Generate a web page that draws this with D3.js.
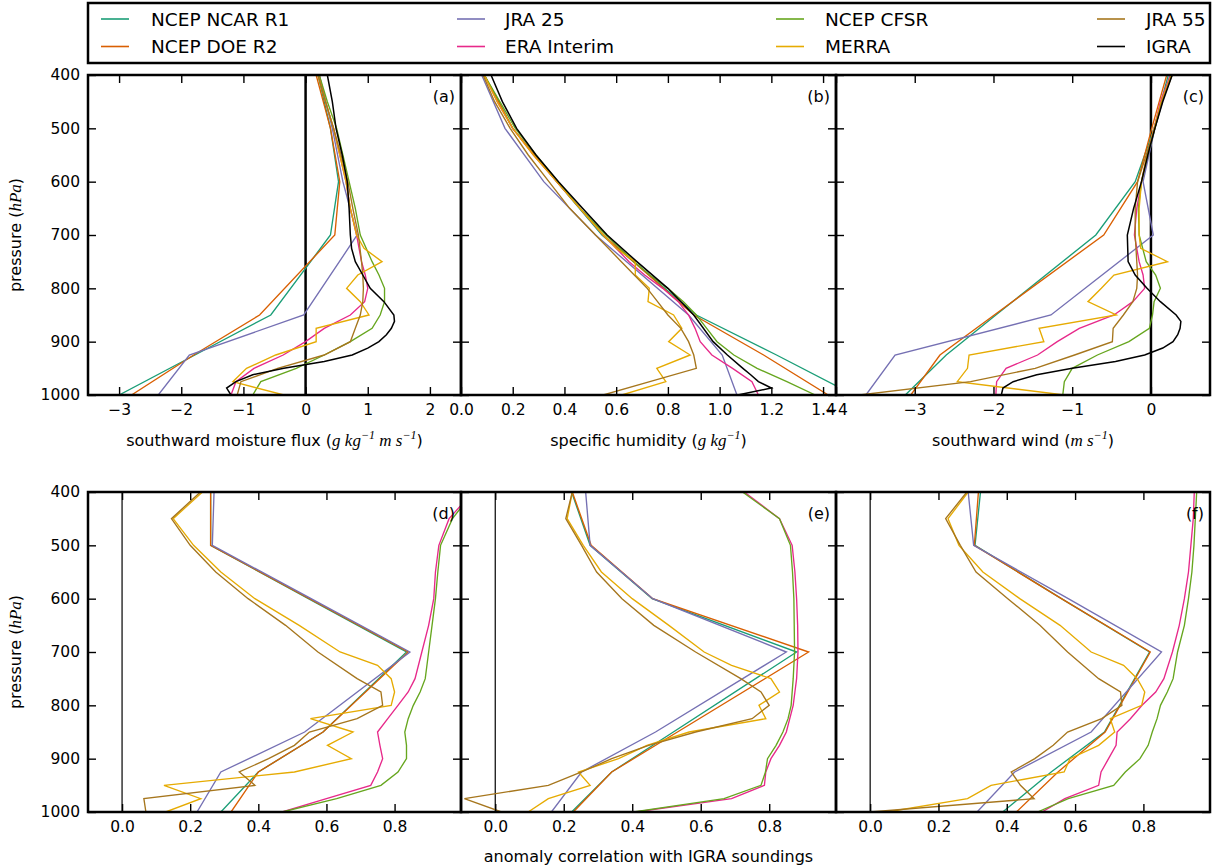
<!DOCTYPE html>
<html><head><meta charset="utf-8">
<script src="https://cdn.jsdelivr.net/npm/d3@7"></script>
<style>
body{margin:0;background:#fff;}
svg{display:block;font-family:"DejaVu Sans",sans-serif;}
</style></head><body>
<svg id="chart" width="1215" height="866"></svg>
<script>
// ---------- names, colours ----------
const seriesNames = ["NCEP NCAR R1","NCEP DOE R2","JRA 25","ERA Interim","NCEP CFSR","MERRA","JRA 55","IGRA"];
const seriesColors = ["#1b9e77","#d95f02","#7570b3","#e7298a","#66a61e","#e6ab02","#a6761d","#000000"];

// ---------- pressure levels (hPa) ----------
const pStd   = [400,500,600,700,850,925,1000];
const pFine  = [400,450,500,550,600,650,700,750,775,800,825,850,875,900,925,950,975,1000];
const pMerra = [400,450,500,550,600,650,700,725,750,775,800,825,850,875,900,925,950,975,1000];
const pIgraA = [400,450,500,550,600,650,700,725,750,775,800,825,850,862,875,887,900,912,925,937,950,962,975,987,1000];
const pIgraB = [400,450,500,550,600,650,700,750,800,850,900,925,950,962,975,987,1000];
const pIgraC = [400,450,500,550,600,650,700,750,775,800,825,850,862,875,887,900,912,925,937,950,962,975,987,1000];

// ---------- tick labels ----------
const pressureTicks = [400,500,600,700,800,900,1000];
const ticksA = [-3,-2,-1,0,1,2];
const ticksB = [0,0.2,0.4,0.6,0.8,1.0,1.2,1.4];
const ticksC = [-4,-3,-2,-1,0];
const ticksCorr = [0,0.2,0.4,0.6,0.8];

// ---------- (a) southward moisture flux ----------
const aR1    = [0.20,0.40,0.53,0.40,-0.56,-1.78,-3.0];
const aR2    = [0.17,0.40,0.55,0.47,-0.74,-1.80,-2.8];
const aJRA25 = [0.22,0.43,0.60,0.83,-0.03,-1.87,-2.37];
const aERA   = [0.22,0.32,0.45,0.55,0.65,0.72,0.82,0.90,0.96,1.00,0.95,0.72,0.30,0.00,-0.36,-0.83,-1.12,-1.20];
const aCFSR  = [0.22,0.35,0.50,0.60,0.70,0.80,0.88,1.07,1.18,1.27,1.27,1.20,1.07,0.72,0.30,-0.15,-0.72,-0.85];
const aMERRA = [0.20,0.32,0.45,0.55,0.65,0.72,0.82,0.94,1.23,0.84,0.66,0.88,1.02,0.17,0.17,-0.48,-0.95,-1.17,-0.35];
const aJRA55 = [0.20,0.32,0.45,0.57,0.68,0.76,0.85,0.90,0.92,0.93,0.92,0.88,0.80,0.72,0.30,-0.45,-1.04,-1.10];
const aIGRA  = [0.35,0.43,0.49,0.59,0.67,0.70,0.72,0.74,0.80,0.92,1.04,1.26,1.42,1.43,1.38,1.30,1.18,1.00,0.75,0.30,-0.35,-0.85,-1.12,-1.27,-1.20];

// ---------- (b) specific humidity ----------
const bR1    = [0.09,0.20,0.37,0.545,0.91,1.22,1.52];
const bR2    = [0.09,0.20,0.37,0.55,0.90,1.17,1.42];
const bJRA25 = [0.08,0.17,0.32,0.52,0.88,1.01,1.067];
const bERA   = [0.09,0.14,0.20,0.28,0.37,0.46,0.55,0.65,0.71,0.78,0.84,0.88,0.905,0.925,0.97,1.05,1.125,1.15];
const bCFSR  = [0.09,0.15,0.21,0.29,0.375,0.46,0.56,0.67,0.73,0.80,0.86,0.91,0.95,0.99,1.055,1.145,1.26,1.37];
const bMERRA = [0.09,0.14,0.20,0.28,0.37,0.46,0.55,0.60,0.674,0.674,0.728,0.723,0.822,0.854,0.803,0.886,0.757,0.792,0.622];
const bJRA55 = [0.085,0.13,0.19,0.26,0.34,0.42,0.52,0.62,0.67,0.72,0.76,0.80,0.85,0.88,0.90,0.91,0.73,0.55];
const bIGRA  = [0.116,0.16,0.215,0.29,0.377,0.47,0.565,0.68,0.80,0.90,0.975,1.03,1.09,1.12,1.15,1.20,1.07];

// ---------- (c) southward wind ----------
const cR1    = [0.22,0.04,-0.20,-0.70,-1.97,-2.60,-3.12];
const cR2    = [0.20,0.01,-0.17,-0.60,-1.99,-2.68,-3.05];
const cJRA25 = [0.24,0.05,-0.10,0.03,-1.27,-3.25,-3.62];
const cERA   = [0.25,0.12,0.04,-0.05,-0.12,-0.18,-0.21,-0.15,-0.10,-0.08,-0.23,-0.47,-0.91,-1.19,-1.44,-1.84,-1.96,-1.97];
const cCFSR  = [0.26,0.14,0.05,-0.04,-0.12,-0.16,-0.15,-0.06,0.06,0.12,0.04,0.02,-0.02,-0.28,-0.68,-1.00,-1.10,-1.12];
const cMERRA = [0.26,0.13,0.04,-0.05,-0.12,-0.15,-0.15,-0.13,0.21,-0.47,-0.63,-0.80,-0.44,-1.42,-1.36,-2.31,-2.33,-2.46,-1.10];
const cJRA55 = [0.27,0.14,0.05,-0.06,-0.17,-0.20,-0.20,-0.18,-0.17,-0.18,-0.23,-0.35,-0.48,-0.49,-0.97,-1.47,-2.29,-3.70];
const cIGRA  = [0.27,0.15,0.05,-0.04,-0.12,-0.22,-0.30,-0.29,-0.20,-0.05,0.12,0.32,0.38,0.37,0.34,0.28,0.15,-0.08,-0.45,-1.00,-1.45,-1.75,-1.88,-1.90];

// ---------- (d) correlation: moisture flux ----------
const dR1    = [0.26,0.26,0.547,0.835,0.59,0.40,0.29];
const dR2    = [0.26,0.26,0.55,0.84,0.59,0.40,0.32];
const dJRA25 = [0.27,0.265,0.555,0.845,0.536,0.29,0.22];
const dERA   = [1.03,0.96,0.93,0.92,0.915,0.90,0.88,0.86,0.84,0.81,0.78,0.75,0.757,0.765,0.75,0.73,0.60,0.47];
const dCFSR  = [1.03,0.97,0.935,0.927,0.92,0.91,0.90,0.89,0.875,0.855,0.84,0.83,0.835,0.835,0.81,0.76,0.63,0.47];
const dMERRA = [0.236,0.15,0.21,0.29,0.39,0.52,0.64,0.75,0.79,0.80,0.79,0.553,0.678,0.603,0.673,0.506,0.123,0.231,0.128];
const dJRA55 = [0.23,0.145,0.20,0.275,0.37,0.48,0.575,0.69,0.76,0.765,0.69,0.55,0.506,0.43,0.344,0.39,0.064,0.07];

// ---------- (e) correlation: specific humidity ----------
const eR1    = [0.223,0.277,0.458,0.88,0.52,0.34,0.223];
const eR2    = [0.225,0.28,0.46,0.915,0.532,0.34,0.228];
const eJRA25 = [0.264,0.277,0.46,0.85,0.468,0.252,0.164];
const eERA   = [0.727,0.83,0.867,0.875,0.88,0.883,0.884,0.88,0.875,0.87,0.86,0.85,0.83,0.805,0.79,0.786,0.69,0.41];
const eCFSR  = [0.722,0.83,0.862,0.868,0.872,0.873,0.874,0.87,0.867,0.864,0.855,0.84,0.82,0.795,0.789,0.776,0.668,0.404];
const eMERRA = [0.225,0.21,0.257,0.31,0.40,0.507,0.61,0.69,0.805,0.83,0.77,0.79,0.566,0.443,0.36,0.243,0.277,0.155,0.096];
const eJRA55 = [0.225,0.206,0.252,0.296,0.37,0.463,0.585,0.717,0.776,0.80,0.75,0.585,0.448,0.34,0.252,0.155,-0.09,0.018];

// ---------- (f) correlation: southward wind ----------
const fR1    = [0.323,0.307,0.56,0.818,0.686,0.53,0.388];
const fR2    = [0.317,0.305,0.56,0.82,0.688,0.55,0.428];
const fJRA25 = [0.287,0.303,0.58,0.853,0.647,0.423,0.313];
const fERA   = [0.949,0.946,0.939,0.932,0.92,0.905,0.885,0.86,0.836,0.796,0.762,0.723,0.72,0.698,0.676,0.669,0.57,0.503];
const fCFSR  = [0.956,0.952,0.948,0.942,0.932,0.92,0.90,0.887,0.87,0.85,0.84,0.826,0.814,0.79,0.747,0.713,0.58,0.49];
const fMERRA = [0.287,0.228,0.26,0.33,0.438,0.556,0.647,0.742,0.782,0.804,0.795,0.703,0.716,0.669,0.585,0.568,0.354,0.285,0.05];
const fJRA55 = [0.283,0.221,0.264,0.31,0.403,0.497,0.578,0.669,0.733,0.737,0.678,0.578,0.536,0.482,0.413,0.44,0.48,0.0];

// ---------- build panels ----------
const seriesLevels = [pStd,pStd,pStd,pFine,pFine,pMerra,pFine];
function mk(vals, igra){
  const out = vals.map((v,i)=>({name:seriesNames[i], color:seriesColors[i], pts:seriesLevels[i].map((p,j)=>[p,v[j]])}));
  if (igra) out.push({name:"IGRA", color:"#000", pts:igra[0].map((p,j)=>[p,igra[1][j]])});
  return out;
}
const colX = [[88,461],[461,836],[836,1210]];
const rowY = [[75,395],[492,812]];
const fmtInt = d3.format("d"), fmt1 = d3.format(".1f");
const panels = [
  {lab:"(a)", c:0, r:0, dom:[-3.5,2.5], ticks:ticksA, fmt:fmtInt, zero:2.5, series:mk([aR1,aR2,aJRA25,aERA,aCFSR,aMERRA,aJRA55],[pIgraA,aIGRA])},
  {lab:"(b)", c:1, r:0, dom:[0,1.45], ticks:ticksB, fmt:fmt1, zero:0, series:mk([bR1,bR2,bJRA25,bERA,bCFSR,bMERRA,bJRA55],[pIgraB,bIGRA])},
  {lab:"(c)", c:2, r:0, dom:[-4,0.75], ticks:ticksC, fmt:fmtInt, zero:2.5, series:mk([cR1,cR2,cJRA25,cERA,cCFSR,cMERRA,cJRA55],[pIgraC,cIGRA])},
  {lab:"(d)", c:0, r:1, dom:[-0.1,0.995], ticks:ticksCorr, fmt:fmt1, zero:1.2, series:mk([dR1,dR2,dJRA25,dERA,dCFSR,dMERRA,dJRA55])},
  {lab:"(e)", c:1, r:1, dom:[-0.1,0.995], ticks:ticksCorr, fmt:fmt1, zero:1.2, series:mk([eR1,eR2,eJRA25,eERA,eCFSR,eMERRA,eJRA55])},
  {lab:"(f)", c:2, r:1, dom:[-0.1,0.995], ticks:ticksCorr, fmt:fmt1, zero:1.2, series:mk([fR1,fR2,fJRA25,fERA,fCFSR,fMERRA,fJRA55])}
];

const svg = d3.select("#chart");
const defs = svg.append("defs");

function styleAxis(g, labels){
  g.select(".domain").remove();
  g.selectAll(".tick line").attr("stroke","#000").attr("stroke-width",1.4);
  g.selectAll(".tick text").attr("fill","#000").style("font-size","15.5px").style("font-family","DejaVu Sans");
  if(!labels) g.selectAll(".tick text").remove();
}

panels.forEach((P,i)=>{
  const [x0,x1] = colX[P.c], [y0,y1] = rowY[P.r];
  const x = d3.scaleLinear().domain(P.dom).range([x0,x1]);
  const y = d3.scaleLinear().domain([400,1000]).range([y0,y1]);
  const g = svg.append("g");
  defs.append("clipPath").attr("id","clip"+i).append("rect")
    .attr("x",x0).attr("y",y0).attr("width",x1-x0).attr("height",y1-y0);
  if (P.zero>0) g.append("line").attr("x1",x(0)).attr("x2",x(0)).attr("y1",y0).attr("y2",y1)
    .attr("stroke","#000").attr("stroke-width",P.zero);
  const line = d3.line().x(d=>x(d[1])).y(d=>y(d[0]));
  const lg = g.append("g").attr("clip-path",`url(#clip${i})`);
  P.series.forEach(s=>{
    lg.append("path").attr("d",line(s.pts)).attr("fill","none").attr("stroke",s.color)
      .attr("stroke-width", s.name==="IGRA"?1.5:1.35).attr("stroke-linejoin","miter");
  });
  const gb = g.append("g").attr("transform",`translate(0,${y1})`)
    .call(d3.axisBottom(x).tickValues(P.ticks).tickSize(-8).tickPadding(9).tickFormat(P.fmt));
  styleAxis(gb,true);
  const gt = g.append("g").attr("transform",`translate(0,${y0})`)
    .call(d3.axisTop(x).tickValues(P.ticks).tickSize(-8));
  styleAxis(gt,false);
  const gl = g.append("g").attr("transform",`translate(${x0},0)`)
    .call(d3.axisLeft(y).tickValues(pressureTicks).tickSize(-8).tickPadding(8).tickFormat(fmtInt));
  styleAxis(gl, P.c===0);
  const gr = g.append("g").attr("transform",`translate(${x1},0)`)
    .call(d3.axisRight(y).tickValues(pressureTicks).tickSize(-8));
  styleAxis(gr,false);
  g.append("rect").attr("x",x0).attr("y",y0).attr("width",x1-x0).attr("height",y1-y0)
    .attr("fill","none").attr("stroke","#000").attr("stroke-width",2.5);
  g.append("text").attr("x",x1-6).attr("y",y0+27).attr("text-anchor","end")
    .style("font-size","16px").text(P.lab);
});

// ---------- axis titles with math ----------
function rich(sel, parts){
  let up = false;
  parts.forEach(p=>{
    const t = sel.append("tspan").text(p.t);
    if (p.it) t.style("font-family","'Liberation Serif',serif").style("font-style","italic").style("font-size", p.sup?"12px":"17px");
    if (p.sup){ t.attr("dy",-7); up=true; }
    else if (up){ t.attr("dy",7); up=false; }
  });
}
function title(x,y,parts,rot){
  const t = svg.append("text").attr("text-anchor","middle").style("font-size","16px").attr("fill","#000");
  if (rot) t.attr("transform",`translate(${x},${y}) rotate(-90)`);
  else t.attr("x",x).attr("y",y);
  rich(t,parts);
}
title(274.5,446,[{t:"southward moisture flux ("},{t:"g kg",it:1},{t:"−1",it:1,sup:1},{t:" m s",it:1},{t:"−1",it:1,sup:1},{t:")"}]);
title(648.5,446,[{t:"specific humidity ("},{t:"g kg",it:1},{t:"−1",it:1,sup:1},{t:")"}]);
title(1023,446,[{t:"southward wind ("},{t:"m s",it:1},{t:"−1",it:1,sup:1},{t:")"}]);
title(648.5,862,[{t:"anomaly correlation with IGRA soundings"}]);
title(21,235,[{t:"pressure ("},{t:"hPa",it:1},{t:")"}],true);
title(21,652,[{t:"pressure ("},{t:"hPa",it:1},{t:")"}],true);

// ---------- legend ----------
const leg = svg.append("g");
leg.append("rect").attr("x",88).attr("y",3).attr("width",1122).attr("height",60)
  .attr("fill","#fff").attr("stroke","#000").attr("stroke-width",2.5);
const legHandleX = [101,457,776,1097];
const legTextX = [151,505,825,1146];
const legRowY = [19,46.5];
seriesNames.forEach((n,i)=>{
  const c = Math.floor(i/2), r = i%2;
  leg.append("line").attr("x1",legHandleX[c]).attr("x2",legHandleX[c]+28)
    .attr("y1",legRowY[r]).attr("y2",legRowY[r]).attr("stroke",seriesColors[i]).attr("stroke-width",1.6);
  leg.append("text").attr("x",legTextX[c]).attr("y",legRowY[r]).attr("dy","0.36em")
    .style("font-size","18.5px").attr("fill","#000").text(n);
});
</script>
</body></html>
